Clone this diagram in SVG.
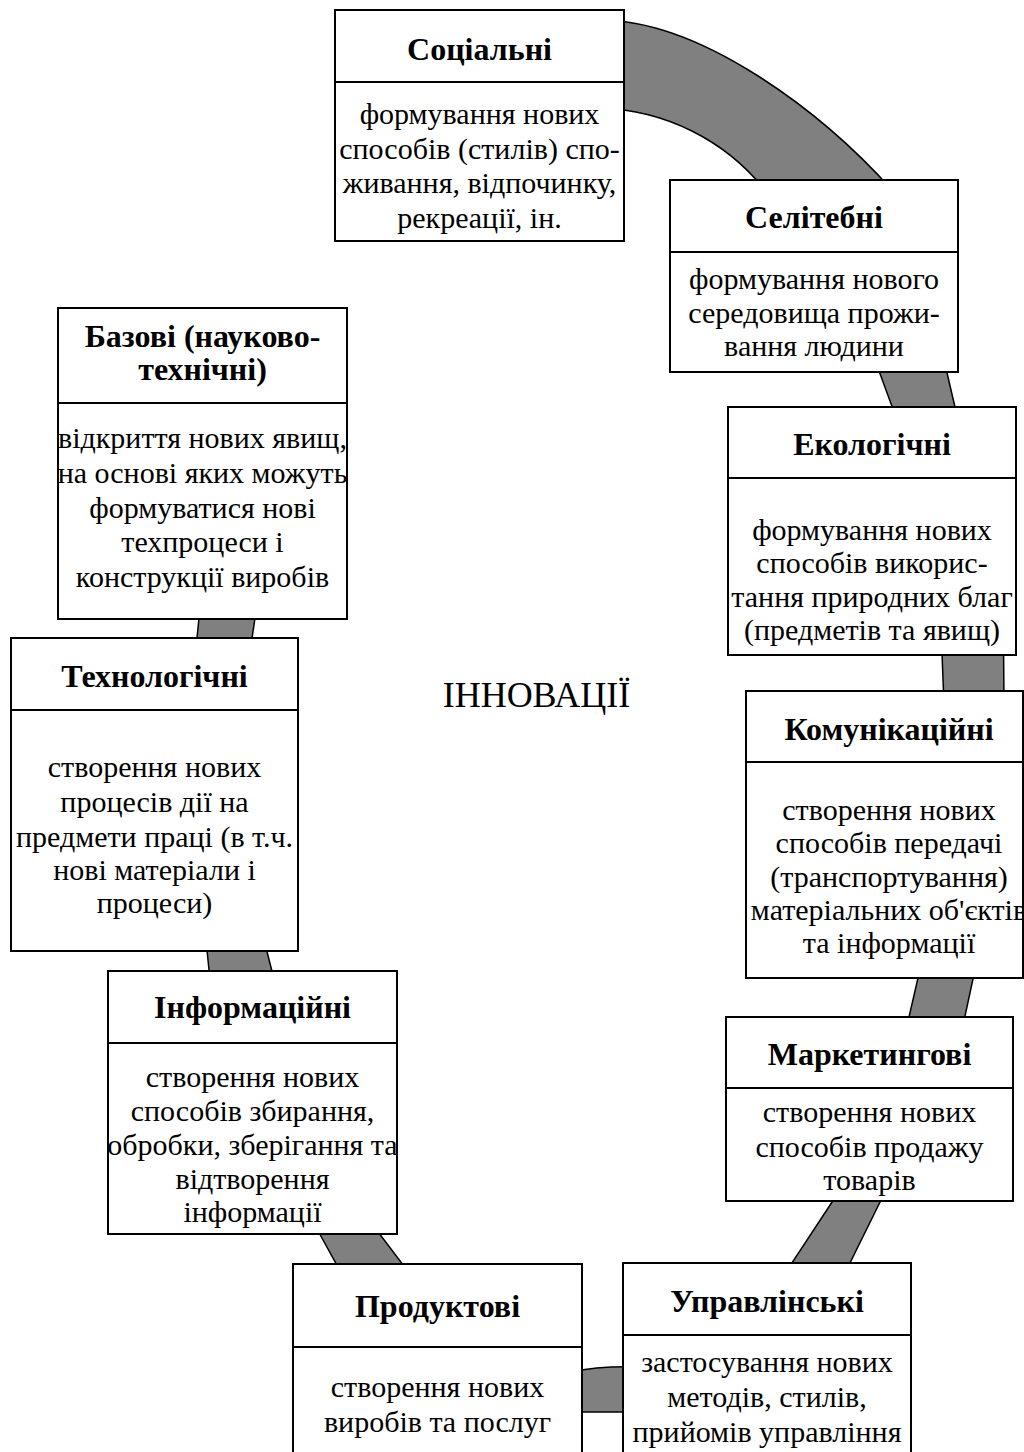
<svg xmlns="http://www.w3.org/2000/svg" width="1024" height="1452" viewBox="0 0 1024 1452">
<style>
.bg{fill:#ffffff}
.band{fill:#808080;stroke:#000;stroke-width:1.5;stroke-linejoin:round}
.box{fill:#fff;stroke:#000;stroke-width:2}
.div{stroke:#000;stroke-width:2}
.t{font-family:"Liberation Serif","Times New Roman",serif;font-size:32px;font-weight:bold;text-anchor:middle;fill:#000}
.b{font-family:"Liberation Serif","Times New Roman",serif;font-size:30px;text-anchor:middle;fill:#000}
.c{font-family:"Liberation Serif","Times New Roman",serif;font-size:36px;text-anchor:middle;fill:#000}
</style>
<rect class="bg" x="0" y="0" width="1024" height="1452"/>
<g id="connectors">
<path class="band" d="M600,20 C700,20 820,110 892,190 L765,190 C725,140 665,110 600,108 Z"/>
<path class="band" d="M875,360 L897,420 L958,420 L944,360 Z"/>
<path class="band" d="M941.5,640 L944,705 L1004,705 L1003.5,640 Z"/>
<path class="band" d="M921,965 L906,1030 L962,1030 L976,965 Z"/>
<path class="band" d="M840,1190 L784,1275 L844,1275 L886,1190 Z"/>
<path class="band" d="M570,1372 Q600,1366 635,1367 L635,1412 L570,1412 Z"/>
<path class="band" d="M312,1220 L344,1278 L413,1278 L369,1220 Z"/>
<path class="band" d="M206,940 L210.5,985 L275.5,985 L264,940 Z"/>
<path class="band" d="M200.3,605 L195.8,650 L250.2,650 L257,605 Z"/>
</g>
<g id="social">
<rect class="box" x="335" y="10" width="289" height="231"/>
<line class="div" x1="335" y1="82" x2="624" y2="82"/>
<text class="t" x="479.5" y="60">Соціальні</text>
<text class="b"><tspan x="479.5" y="124">формування нових</tspan><tspan x="479.5" y="159">способів (стилів) спо-</tspan><tspan x="479.5" y="193">живання, відпочинку,</tspan><tspan x="479.5" y="228">рекреації, ін.</tspan></text>
</g>
<g id="selitebni">
<rect class="box" x="670" y="180" width="288" height="192"/>
<line class="div" x1="670" y1="252" x2="958" y2="252"/>
<text class="t" x="814" y="228">Селітебні</text>
<text class="b"><tspan x="814" y="289">формування нового</tspan><tspan x="814" y="323">середовища прожи-</tspan><tspan x="814" y="356">вання людини</tspan></text>
</g>
<g id="bazovi">
<rect class="box" x="58" y="308" width="289" height="311"/>
<line class="div" x1="58" y1="403" x2="347" y2="403"/>
<text class="t"><tspan x="202.5" y="347">Базові (науково-</tspan><tspan x="202.5" y="380">технічні)</tspan></text>
<text class="b"><tspan x="202.5" y="448">відкриття нових явищ,</tspan><tspan x="202.5" y="483">на основі яких можуть</tspan><tspan x="202.5" y="518">формуватися нові</tspan><tspan x="202.5" y="552">техпроцеси і</tspan><tspan x="202.5" y="587">конструкції виробів</tspan></text>
</g>
<g id="ekologichni">
<rect class="box" x="728" y="407" width="288" height="248"/>
<line class="div" x1="728" y1="478" x2="1016" y2="478"/>
<text class="t" x="872" y="455">Екологічні</text>
<text class="b"><tspan x="872" y="540">формування нових</tspan><tspan x="872" y="573">способів викорис-</tspan><tspan x="872" y="607">тання природних благ</tspan><tspan x="872" y="640">(предметів та явищ)</tspan></text>
</g>
<g id="tekhnologichni">
<rect class="box" x="11" y="638" width="287" height="313"/>
<line class="div" x1="11" y1="710" x2="298" y2="710"/>
<text class="t" x="154.5" y="687">Технологічні</text>
<text class="b"><tspan x="154.5" y="777">створення нових</tspan><tspan x="154.5" y="812">процесів дії на</tspan><tspan x="154.5" y="847">предмети праці (в т.ч.</tspan><tspan x="154.5" y="880">нові матеріали і</tspan><tspan x="154.5" y="913">процеси)</tspan></text>
</g>
<g id="komunikatsiini">
<rect class="box" x="746" y="691" width="277" height="287"/>
<line class="div" x1="746" y1="762" x2="1023" y2="762"/>
<text class="t" x="889" y="740">Комунікаційні</text>
<text class="b"><tspan x="889" y="820">створення нових</tspan><tspan x="889" y="853">способів передачі</tspan><tspan x="889" y="887">(транспортування)</tspan><tspan x="889" y="920">матеріальних об'єктів</tspan><tspan x="889" y="953">та інформації</tspan></text>
</g>
<g id="marketingovi">
<rect class="box" x="726" y="1017" width="287" height="184"/>
<line class="div" x1="726" y1="1088" x2="1013" y2="1088"/>
<text class="t" x="869.5" y="1065">Маркетингові</text>
<text class="b"><tspan x="869.5" y="1122">створення нових</tspan><tspan x="869.5" y="1157">способів продажу</tspan><tspan x="869.5" y="1190">товарів</tspan></text>
</g>
<g id="informatsiini">
<rect class="box" x="108" y="971" width="289" height="263"/>
<line class="div" x1="108" y1="1043" x2="397" y2="1043"/>
<text class="t" x="252.5" y="1018">Інформаційні</text>
<text class="b"><tspan x="252.5" y="1087">створення нових</tspan><tspan x="252.5" y="1121">способів збирання,</tspan><tspan x="252.5" y="1155">обробки, зберігання та</tspan><tspan x="252.5" y="1189">відтворення</tspan><tspan x="252.5" y="1222">інформації</tspan></text>
</g>
<g id="produktovi">
<rect class="box" x="293" y="1264" width="289" height="200"/>
<line class="div" x1="293" y1="1347" x2="582" y2="1347"/>
<text class="t" x="437.5" y="1317">Продуктові</text>
<text class="b"><tspan x="437.5" y="1397">створення нових</tspan><tspan x="437.5" y="1432">виробів та послуг</tspan></text>
</g>
<g id="upravlinski">
<rect class="box" x="623" y="1263" width="288" height="200"/>
<line class="div" x1="623" y1="1335" x2="911" y2="1335"/>
<text class="t" x="767" y="1312">Управлінські</text>
<text class="b"><tspan x="767" y="1372">застосування нових</tspan><tspan x="767" y="1407">методів, стилів,</tspan><tspan x="767" y="1442">прийомів управління</tspan></text>
</g>
<g id="center">
<text class="c" x="536.5" y="707">ІННОВАЦІЇ</text>
</g>
</svg>
